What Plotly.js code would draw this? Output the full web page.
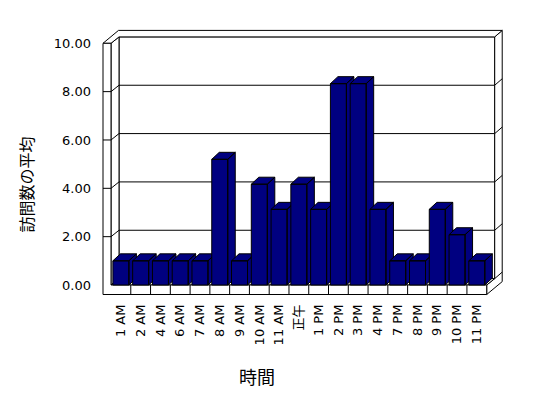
<!DOCTYPE html>
<html>
<head>
<meta charset="utf-8">
<script src="https://cdn.plot.ly/plotly-3.0.1.min.js"></script>
<style>html,body{margin:0;padding:0;background:#fff;}#chart{width:548px;height:398px;}</style>
</head>
<body>
<div id="chart"></div>
<script>
// ---- data ----
const categories = ['1 AM','2 AM','4 AM','6 AM','7 AM','8 AM','9 AM','10 AM','11 AM','正午','1 PM','2 PM','3 PM','4 PM','7 PM','8 PM','9 PM','10 PM','11 PM'];
const visits = [1, 1, 1, 1, 1, 5.2, 1, 4.17, 3.13, 4.17, 3.13, 8.33, 8.33, 3.13, 1, 1, 3.13, 2.08, 1];
const yTickVals = [0, 2, 4, 6, 8, 10];
const yTickText = ['0.00', '2.00', '4.00', '6.00', '8.00', '10.00'];
const xTitle = '時間';
const yTitle = '訪問数の平均';

// ---- geometry (pixels) ----
const W = 548, H = 398;
const PL = 100, PR = 505, PT = 28, PB = 298;          // plot area
const FRONT_L = 111, CAT_W = 19.774, FLOOR_Y = 285, UNIT_H = 24.17;
const WALL_OUT = 103, FLOOR_B = 294.5;
const D1x = 8, D1y = 6.4, D2x = 7.5, D2y = 6.5;       // depth offsets
const BAR_W = 16, BAR_DX = 7.5, BAR_DY = 7;

const X = px => (px - FRONT_L) / CAT_W - 0.5;
const Y = py => (FLOOR_Y - py) / UNIT_H;
const pyOf = v => FLOOR_Y - v * UNIT_H;
const n = categories.length;
const FRONT_R = FRONT_L + n * CAT_W;
const wallTop = pyOf(yTickVals[yTickVals.length - 1]);

function path(pts, close) {
  return pts.map((p, i) => (i ? 'L' : 'M') + X(p[0]).toFixed(4) + ',' + Y(p[1]).toFixed(4)).join(' ') + (close ? ' Z' : '');
}
const shapes = [];
function poly(pts, fill) {
  shapes.push({type: 'path', path: path(pts, true), xref: 'x', yref: 'y', layer: 'below',
    fillcolor: fill || '#ffffff', line: {color: '#000', width: 1}});
}
function seg(a, b) {
  shapes.push({type: 'path', path: path([a, b], false), xref: 'x', yref: 'y', layer: 'below',
    line: {color: '#000', width: 1}});
}

const bwL = FRONT_L + D1x, bwR = FRONT_R + D1x, bwTop = wallTop - D1y, bwBot = FLOOR_Y - D1y;
// back wall front face
poly([[bwL, bwTop], [bwR, bwTop], [bwR, bwBot], [bwL, bwBot]]);
yTickVals.slice(1, -1).forEach(v => seg([bwL, pyOf(v) - D1y], [bwR, pyOf(v) - D1y]));
// left wall inner face
poly([[FRONT_L, wallTop], [bwL, bwTop], [bwL, bwBot], [FRONT_L, FLOOR_Y]]);
yTickVals.slice(1, -1).forEach(v => seg([FRONT_L, pyOf(v)], [bwL, pyOf(v) - D1y]));
// right face
poly([[FRONT_R, FLOOR_Y], [bwR, bwBot], [bwR, bwTop], [bwR + D2x, bwTop - D2y],
      [bwR + D2x, FLOOR_B - D1y - D2y], [FRONT_R, FLOOR_B]]);
yTickVals.slice(0, -1).forEach(v => seg([bwR, pyOf(v) - D1y], [bwR + D2x, pyOf(v) - D1y - D2y]));
// top face
poly([[WALL_OUT, wallTop], [FRONT_L, wallTop], [bwL, bwTop], [bwR, bwTop],
      [bwR + D2x, bwTop - D2y], [WALL_OUT + D1x + D2x, bwTop - D2y]]);
// floor top
poly([[FRONT_L, FLOOR_Y], [FRONT_R, FLOOR_Y], [bwR, bwBot], [bwL, bwBot]]);
// front L-shaped face
poly([[WALL_OUT, wallTop], [FRONT_L, wallTop], [FRONT_L, FLOOR_Y], [FRONT_R, FLOOR_Y],
      [FRONT_R, FLOOR_B], [WALL_OUT, FLOOR_B]]);
for (let k = 1; k < n; k++) seg([FRONT_L + k * CAT_W, FLOOR_Y], [FRONT_L + k * CAT_W, FLOOR_B]);
yTickVals.slice(1, -1).forEach(v => seg([WALL_OUT, pyOf(v)], [FRONT_L, pyOf(v)]));

// ---- bars (one trace per bar, painted left to right) ----
const hw = BAR_W / CAT_W / 2, bdx = BAR_DX / CAT_W, bdy = BAR_DY / UNIT_H;
const traces = visits.map((v, i) => {
  const xl = i - hw, xr = i + hw;
  const xs = [xl, xr, xr, xl, xl, null,
              xr, xr + bdx, xr + bdx, xr, xr, null,
              xl, xr, xr + bdx, xl + bdx, xl];
  const ys = [0, 0, v, v, 0, null,
              0, bdy, v + bdy, v, 0, null,
              v, v, v + bdy, v + bdy, v];
  return {type: 'scatter', mode: 'lines', x: xs, y: ys, fill: 'toself', fillcolor: '#000080',
    line: {color: '#000000', width: 1}, hoverinfo: 'skip', showlegend: false, name: categories[i]};
});

const font = {family: 'DejaVu Sans, Noto Sans CJK JP, sans-serif', size: 13, color: '#000'};
const layout = {
  width: W, height: H,
  margin: {l: PL, r: W - PR, t: PT, b: H - PB, pad: 0},
  paper_bgcolor: '#fff', plot_bgcolor: 'rgba(0,0,0,0)',
  showlegend: false,
  font: font,
  xaxis: {range: [X(PL), X(PR)], tickmode: 'array', tickvals: categories.map((c, i) => i),
    ticktext: categories, tickangle: -90, showgrid: false, zeroline: false, showline: false,
    ticks: '', ticklabelstandoff: 3, tickfont: font, fixedrange: true},
  yaxis: {range: [Y(PB), Y(PT)], tickmode: 'array', tickvals: yTickVals, ticktext: yTickText,
    showgrid: false, zeroline: false, showline: false, ticks: '', ticklabelstandoff: 8,
    tickfont: font, fixedrange: true},
  shapes: shapes,
  annotations: [
    {text: xTitle, xref: 'paper', yref: 'paper', x: (256.5 - PL) / (PR - PL), y: (PB - 376) / (PB - PT),
     showarrow: false, xanchor: 'center', yanchor: 'middle',
     font: {family: 'Noto Sans CJK JP, sans-serif', size: 18, color: '#000'}},
    {text: yTitle, xref: 'paper', yref: 'paper', x: (25 - PL) / (PR - PL), y: (PB - 184.5) / (PB - PT),
     showarrow: false, xanchor: 'center', yanchor: 'middle', textangle: -90,
     font: {family: 'Noto Sans CJK JP, sans-serif', size: 16, color: '#000'}}
  ]
};
Plotly.newPlot('chart', traces, layout, {staticPlot: true, displayModeBar: false});
</script>
</body>
</html>
